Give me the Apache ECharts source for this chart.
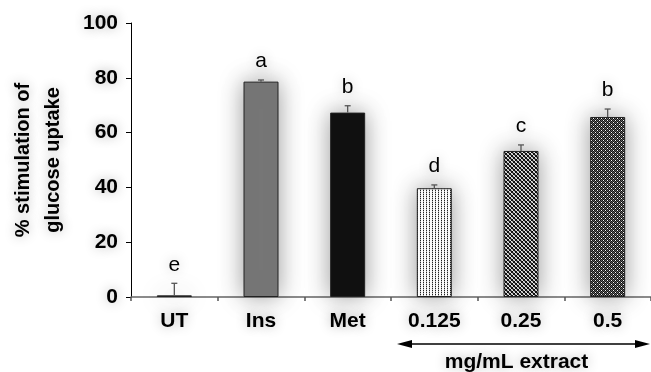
<!DOCTYPE html>
<html>
<head>
<meta charset="utf-8">
<script src="https://cdn.jsdelivr.net/npm/echarts@6/dist/echarts.min.js"></script>
<style>html,body{margin:0;padding:0;background:#fff;}#c{width:651px;height:372px;}</style>
</head>
<body>
<div id="c"></div>
<script>
const categories = ['UT', 'Ins', 'Met', '0.125', '0.25', '0.5'];
const values = [0.6, 78.6, 67.3, 39.7, 53.3, 65.7];
const errors = [4.4, 0.6, 2.5, 1.2, 2.2, 2.9];
const letters = ['e', 'a', 'b', 'd', 'c', 'b'];
const yTicks = [0, 20, 40, 60, 80, 100];
const yName = '% stimulation of\nglucose uptake';
const xNote = 'mg/mL extract';

function makePattern(w, h, fn) {
  const c = document.createElement('canvas');
  c.width = w; c.height = h;
  const ctx = c.getContext('2d');
  for (let y = 0; y < h; y++) for (let x = 0; x < w; x++) {
    ctx.fillStyle = fn(x, y);
    ctx.fillRect(x, y, 1, 1);
  }
  return { image: c, repeat: 'repeat' };
}
const patDots = makePattern(3, 2, (x, y) => (x === 0 && y === 0) ? '#222' : (x === 0 ? '#bbb' : '#fff'));
const patCross = makePattern(4, 4, (x, y) => ((x === y) || (x + y === 3)) ? '#111' : ((x + y) % 2 ? '#999' : '#eee'));
const patDense = makePattern(4, 4, (x, y) => ((x + y) % 2 === 0) ? '#111' : ((x === 1 && y === 2) || (x === 3 && y === 0) ? '#fff' : '#666'));

const barColors = ['#333', '#777777', '#111111', patDots, patCross, patDense];

const chart = echarts.init(document.getElementById('c'), null, { renderer: 'canvas' });
const font = 'Liberation Sans, Arial, sans-serif';
const txtShadow = { textShadowColor: 'rgba(0,0,0,0.3)', textShadowBlur: 12 };

chart.setOption({
  animation: false,
  backgroundColor: '#fff',
  grid: { left: 125, right: -6, top: 23, bottom: 75 },
  xAxis: {
    type: 'category',
    data: categories,
    axisLine: { lineStyle: { color: '#666', width: 1.5 } },
    axisTick: { show: true, length: 4, lineStyle: { color: '#555', width: 1.5 } },
    axisLabel: Object.assign({ color: '#000', fontFamily: font, fontWeight: 'bold', fontSize: 21, margin: 14 }, txtShadow)
  },
  yAxis: {
    type: 'value',
    min: 0, max: 100, interval: 20,
    name: yName,
    nameLocation: 'middle',
    nameGap: 63,
    nameTextStyle: Object.assign({ color: '#000', fontFamily: font, fontWeight: 'bold', fontSize: 20, lineHeight: 30 }, txtShadow),
    axisLine: { show: true, lineStyle: { color: '#000', width: 1 } },
    axisTick: { show: true, length: 5, lineStyle: { color: '#000' } },
    splitLine: { show: false },
    axisLabel: Object.assign({ color: '#000', fontFamily: font, fontWeight: 'bold', fontSize: 21, margin: 13,
      formatter: v => yTicks.includes(v) ? String(v) : '' }, txtShadow)
  },
  series: [
    {
      type: 'bar',
      barWidth: 35,
      data: values.map((v, i) => ({ value: v, itemStyle: { color: barColors[i] } })),
      itemStyle: { borderColor: '#222', borderWidth: 1, shadowColor: 'rgba(0,0,0,0.4)', shadowBlur: 24 },
      z: 2
    },
    {
      type: 'custom',
      z: 5,
      data: categories.map((c, i) => [i, values[i], errors[i]]),
      renderItem: function (params, api) {
        const i = api.value(0), v = api.value(1), e = api.value(2);
        const b = api.coord([i, v]);
        const t = api.coord([i, v + e]);
        const s = { stroke: '#555', lineWidth: 1.3 };
        return {
          type: 'group',
          children: [
            { type: 'line', shape: { x1: b[0], y1: b[1], x2: t[0], y2: t[1] }, style: s },
            { type: 'line', shape: { x1: t[0] - 3, y1: t[1], x2: t[0] + 3, y2: t[1] }, style: s },
            { type: 'text', style: { text: letters[params.dataIndex], x: t[0], y: t[1] - 8,
                align: 'center', verticalAlign: 'bottom', fill: '#000', font: '21px ' + font,
                textShadowColor: 'rgba(0,0,0,0.25)', textShadowBlur: 12 } }
          ]
        };
      }
    }
  ]
});

// Annotation arrow under the extract categories
const p0 = chart.convertToPixel({ xAxisIndex: 0 }, '0.125');
const p1 = chart.convertToPixel({ xAxisIndex: 0 }, '0.5');
const band = (p1 - p0) / 2;
const xa = p0 - band / 2 + 6;
const xb = 650;
const ya = 344;
chart.setOption({
  graphic: [
    { type: 'line', shape: { x1: xa + 8, y1: ya, x2: xb - 8, y2: ya }, style: { stroke: '#000', lineWidth: 1.5 } },
    { type: 'polygon', shape: { points: [[xa, ya], [xa + 15, ya - 4], [xa + 15, ya + 4]] }, style: { fill: '#000' } },
    { type: 'polygon', shape: { points: [[xb, ya], [xb - 15, ya - 4], [xb - 15, ya + 4]] }, style: { fill: '#000' } },
    { type: 'text', x: (xa + 640) / 2 - 2, y: 362,
      style: { text: xNote, align: 'center', verticalAlign: 'middle', fill: '#000',
        font: 'bold 21px ' + font, textShadowColor: 'rgba(0,0,0,0.3)', textShadowBlur: 12 } }
  ]
});
</script>
</body>
</html>
